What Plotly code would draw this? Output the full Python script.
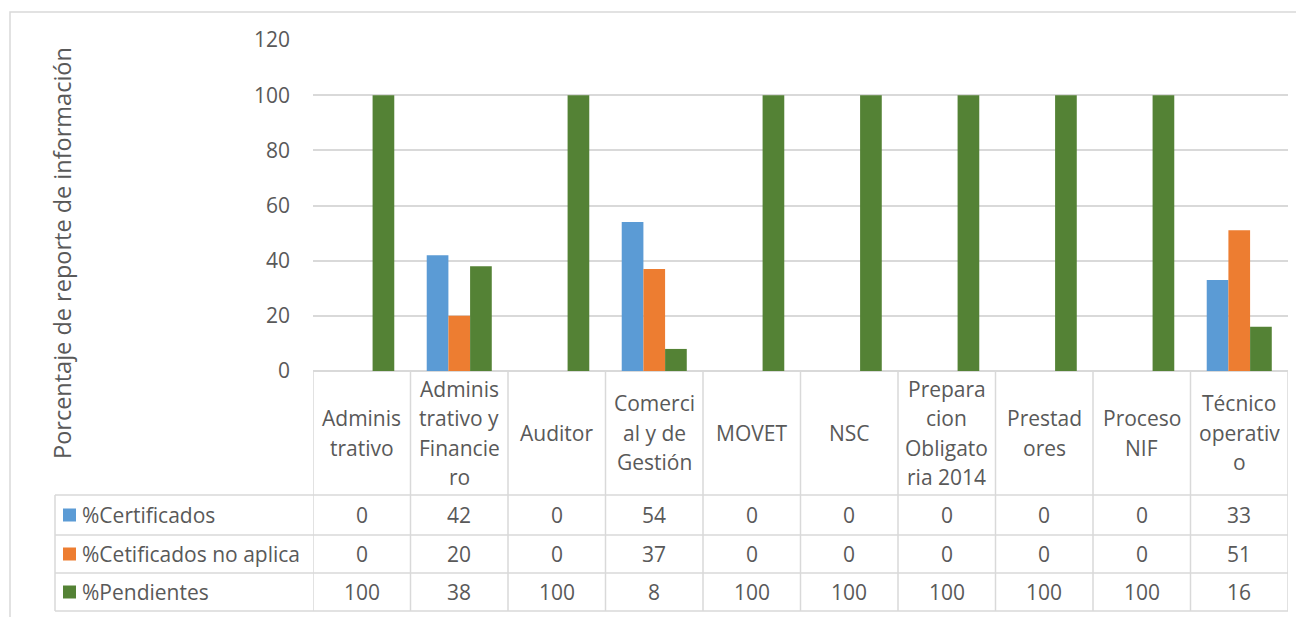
import plotly.graph_objects as go

categories = ["Administrativo", "Administrativo y Financiero", "Auditor", "Comercial y de Gestión",
              "MOVET", "NSC", "Preparacion Obligatoria 2014", "Prestadores", "Proceso NIF", "Técnico operativo"]
category_lines = [["Adminis", "trativo"], ["Adminis", "trativo y", "Financie", "ro"], ["Auditor"],
                  ["Comerci", "al y de", "Gestión"], ["MOVET"], ["NSC"],
                  ["Prepara", "cion", "Obligato", "ria 2014"], ["Prestad", "ores"], ["Proceso", "NIF"],
                  ["Técnico", "operativ", "o"]]
series_names = ["%Certificados", "%Cetificados no aplica", "%Pendientes"]
certificados = [0, 42, 0, 54, 0, 0, 0, 0, 0, 33]
no_aplica = [0, 20, 0, 37, 0, 0, 0, 0, 0, 51]
pendientes = [100, 38, 100, 8, 100, 100, 100, 100, 100, 16]
y_ticks = [0, 20, 40, 60, 80, 100, 120]
y_title = "Porcentaje de reporte de información"

colors = ["#5B9BD5", "#ED7D31", "#548235"]
series_values = [certificados, no_aplica, pendientes]
TEXT = "#595959"
GRID = "#D9D9D9"
FONT = "Open Sans"
FS = 21

# page body has an 8px margin; positions below are in screenshot pixels
OX, OY = 8, 8
W, H = 1304 - OX, 617 - OY
L, R, T, B = 313, 1288, 40, 371
PW, PH = R - L, B - T

def px2x(px):
    return (px - L) / PW

def py2y(py):
    return (B - py) / PH

fig = go.Figure()
for name, vals, col in zip(series_names, series_values, colors):
    fig.add_trace(go.Bar(x=categories, y=vals, name=name, marker=dict(color=col, line=dict(width=0)),
                         showlegend=False))

shapes = []
annotations = []
line = dict(color=GRID, width=1.5)

# outer chart border
shapes.append(dict(type="rect", xref="paper", yref="paper", x0=px2x(10), x1=px2x(1320),
                   y0=py2y(640), y1=py2y(12), line=line, fillcolor="rgba(0,0,0,0)", layer="below"))

row_tops = [495, 535, 573, 611]
n = len(categories)
for k in range(n + 1):
    shapes.append(dict(type="line", xref="x", yref="paper", x0=k - 0.5, x1=k - 0.5,
                       y0=py2y(371), y1=py2y(611), line=line))
shapes.append(dict(type="line", xref="paper", yref="paper", x0=px2x(55), x1=px2x(55),
                   y0=py2y(495), y1=py2y(611), line=line))
for py in row_tops:
    shapes.append(dict(type="line", xref="paper", yref="paper", x0=px2x(55), x1=px2x(R),
                       y0=py2y(py), y1=py2y(py), line=line))

spacing = 29.5
for cat, lines in zip(categories, category_lines):
    m = len(lines)
    for i, txt in enumerate(lines):
        cy = 433 + (i - (m - 1) / 2) * spacing
        annotations.append(dict(x=cat, xref="x", y=py2y(cy), yref="paper", text=txt, showarrow=False,
                                xanchor="center", yanchor="middle", font=dict(family=FONT, size=FS, color=TEXT)))

row_centers = [515, 554, 592]
for r, (name, vals, col) in enumerate(zip(series_names, series_values, colors)):
    cy = row_centers[r]
    shapes.append(dict(type="rect", xref="paper", yref="paper", x0=px2x(63), x1=px2x(76),
                       y0=py2y(cy + 6.5), y1=py2y(cy - 6.5), fillcolor=col, line=dict(width=0)))
    annotations.append(dict(x=px2x(80), xref="paper", y=py2y(cy), yref="paper", text=name, showarrow=False,
                            xanchor="left", yanchor="middle", font=dict(family=FONT, size=FS, color=TEXT)))
    for cat, v in zip(categories, vals):
        annotations.append(dict(x=cat, xref="x", y=py2y(cy), yref="paper", text=str(v), showarrow=False,
                                xanchor="center", yanchor="middle", font=dict(family=FONT, size=FS, color=TEXT)))

annotations.append(dict(x=px2x(62), xref="paper", y=py2y(253), yref="paper", text=y_title, textangle=-90,
                        showarrow=False, xanchor="center", yanchor="middle",
                        font=dict(family=FONT, size=23.5, color=TEXT)))

fig.update_layout(
    width=W, height=H,
    margin=dict(l=L - OX, r=1304 - R, t=T - OY, b=617 - B, pad=0),
    paper_bgcolor="white", plot_bgcolor="white",
    barmode="group", bargap=0.333, bargroupgap=0,
    font=dict(family=FONT, size=FS, color=TEXT),
    xaxis=dict(type="category", range=[-0.5, n - 0.5], showticklabels=False, showgrid=False,
               zeroline=False, showline=False, ticks=""),
    yaxis=dict(range=[0, 120], tickvals=y_ticks, showgrid=True, gridcolor=GRID, gridwidth=1.5,
               zeroline=True, zerolinecolor=GRID, zerolinewidth=1.5, showline=False, ticks="",
               ticklabelstandoff=22, tickfont=dict(family=FONT, size=FS, color=TEXT)),
    shapes=shapes, annotations=annotations,
)

fig.write_html("out.html")
